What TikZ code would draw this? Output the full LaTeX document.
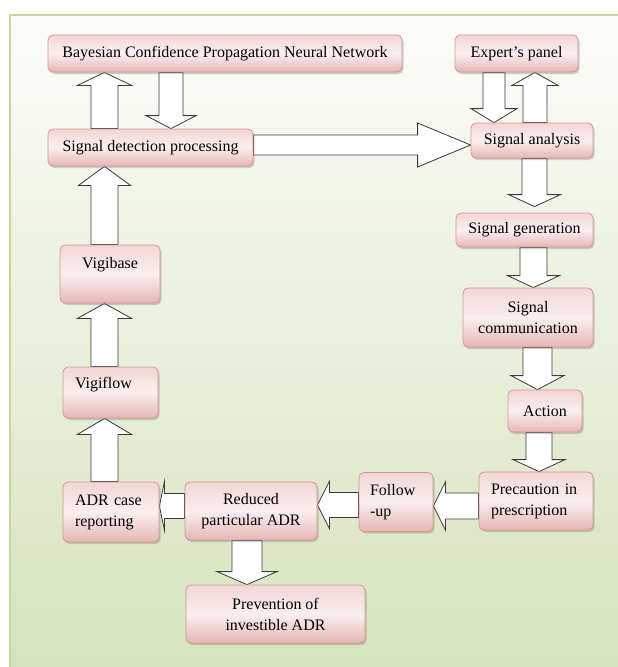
\documentclass[tikz,border=0pt]{standalone}
\usepackage{fontspec}
\setmainfont{Liberation Serif}
\usetikzlibrary{calc,shadows}
\definecolor{bgtop}{HTML}{FCFCFA}
\definecolor{bgbot}{HTML}{D6E3BC}
\definecolor{framegreen}{HTML}{C3D69B}
\definecolor{boxtop}{HTML}{F2D6D5}
\definecolor{boxmid}{HTML}{FBEFEF}
\definecolor{boxbot}{HTML}{E5B6B5}
\definecolor{boxline}{HTML}{D99594}
\definecolor{arrline}{HTML}{3A3A3A}
\pgfdeclarelayer{bg}
\pgfdeclarelayer{arr}
\pgfsetlayers{bg,arr,main}
\tikzset{
  box/.style={draw=boxline, line width=0.8pt, rounded corners=5pt,
    top color=boxtop, bottom color=boxbot, middle color=boxmid,
    drop shadow={shadow xshift=1.5pt, shadow yshift=-2pt, opacity=0.3, fill=black!60},
    font=\fontsize{16}{21}\selectfont, align=center, inner sep=2pt},
  lbox/.style={box, align=left, inner xsep=12pt},
  fatarr/.style={draw=arrline, fill=white, line width=0.8pt, line join=miter}
}
\newcommand\fatarrow[5]{%
  \coordinate (fa1) at (#1);
  \coordinate (fa2) at (#2);
  \coordinate (fa3) at ($(fa2)!#5!(fa1)$);
  \draw[fatarr] ($(fa1)!#3!90:(fa2)$) -- ($(fa3)!#3!90:(fa2)$) -- ($(fa3)!#4!90:(fa2)$) -- (fa2)
    -- ($(fa3)!#4!-90:(fa2)$) -- ($(fa3)!#3!-90:(fa2)$) -- ($(fa1)!#3!-90:(fa2)$) -- cycle;}
\begin{document}
\begin{tikzpicture}[x=1pt, y=-1pt]
\useasboundingbox (0,0) rectangle (618,667);
\begin{pgfonlayer}{bg}
  \shade[top color=bgtop, bottom color=bgbot] (10,15) rectangle (618,667);
  \draw[framegreen, line width=1.2pt] (10,667) -- (10,15) -- (618,15);
\end{pgfonlayer}

% nodes
\node[box, minimum width=354pt, minimum height=37pt] (bcp) at (225,53.5) {Bayesian Confidence Propagation Neural Network};
\node[box, minimum width=123pt, minimum height=37pt] (exp) at (516.5,53.5) {Expert’s panel};
\node[box, minimum width=205pt, minimum height=37pt] (sdp) at (150.5,147.5) {Signal detection processing};
\node[box, minimum width=122pt, minimum height=35pt] (sa) at (532,140.5) {Signal analysis};
\node[box, minimum width=137pt, minimum height=34pt] (sg) at (524.5,230) {Signal generation};
\node[box, minimum width=130pt, minimum height=59pt] (sc) at (528,317.5) {Signal\\communication};
\node[box, minimum width=74pt, minimum height=42pt] (act) at (545,411) {Action};
\node[lbox, text width=90pt, inner xsep=12pt, minimum width=114pt, minimum height=58pt] (prec) at (536,501) {Precaution in\\prescription};
\node[lbox, text width=52pt, inner xsep=11pt, minimum width=74pt, minimum height=59pt] (fol) at (396,502) {Follow\\-up};
\node[box, minimum width=132pt, minimum height=58pt] (red) at (251,511) {Reduced\\particular ADR};
\node[lbox, text width=72pt, minimum width=96pt, minimum height=60pt] (adr) at (111,512) {ADR case\\reporting};
\node[box, minimum width=179pt, minimum height=58pt] (prev) at (275.5,614) {Prevention of\\investible ADR};
\node[box, minimum width=100pt, minimum height=58pt, text height=12pt, text depth=24pt] (vbase) at (110,274) {Vigibase};
\node[lbox, text width=71pt, minimum width=95pt, minimum height=51pt, text height=12pt, text depth=21pt] (vflow) at (110.5,392.5) {Vigiflow};

% reference columns / rows
\coordinate (xA) at (104.5,0);
\coordinate (xB) at (171,0);
\coordinate (xF) at (494,0);
\coordinate (xG) at (535,0);
\coordinate (xH) at (534.5,0);
\coordinate (xI) at (533.5,0);
\coordinate (xJ) at (537.5,0);
\coordinate (xK) at (539,0);
\coordinate (xL) at (247,0);
\coordinate (yM) at (0,145);
\coordinate (yN) at (0,506);
\coordinate (yO) at (0,505);
\coordinate (yP) at (0,506);

\begin{pgfonlayer}{arr}
\fatarrow{sdp.north -| xA}{bcp.south -| xA}{13.5pt}{27pt}{13pt}
\fatarrow{bcp.south -| xB}{sdp.north -| xB}{12pt}{25pt}{13pt}
\fatarrow{vbase.north -| xA}{sdp.south -| xA}{13.5pt}{26pt}{19pt}
\fatarrow{vflow.north -| xA}{vbase.south -| xA}{13.5pt}{27pt}{15pt}
\fatarrow{adr.north -| xA}{vflow.south -| xA}{13.5pt}{27pt}{16pt}
\fatarrow{exp.south -| xF}{sa.north -| xF}{11pt}{23pt}{14pt}
\fatarrow{sa.north -| xG}{exp.south -| xG}{12pt}{23pt}{13pt}
\fatarrow{sa.south -| xH}{$(sg.north -| xH)+(0,-6)$}{12.5pt}{26pt}{12pt}
\fatarrow{sg.south -| xI}{sc.north -| xI}{13.5pt}{26pt}{12pt}
\fatarrow{sc.south -| xJ}{act.north -| xJ}{14.5pt}{26.5pt}{14pt}
\fatarrow{act.south -| xK}{prec.north -| xK}{13pt}{26pt}{12pt}
\fatarrow{red.south -| xL}{prev.north -| xL}{15pt}{30pt}{13pt}
\fatarrow{sdp.east |- yM}{sa.west |- yM}{10pt}{22pt}{53pt}
\fatarrow{prec.west |- yN}{fol.east |- yN}{13pt}{24pt}{12pt}
\fatarrow{fol.west |- yO}{red.east |- yO}{12.5pt}{23.5pt}{12pt}
\fatarrow{red.west |- yP}{adr.east |- yP}{12.5pt}{24pt}{5pt}
\end{pgfonlayer}
\end{tikzpicture}
\end{document}
